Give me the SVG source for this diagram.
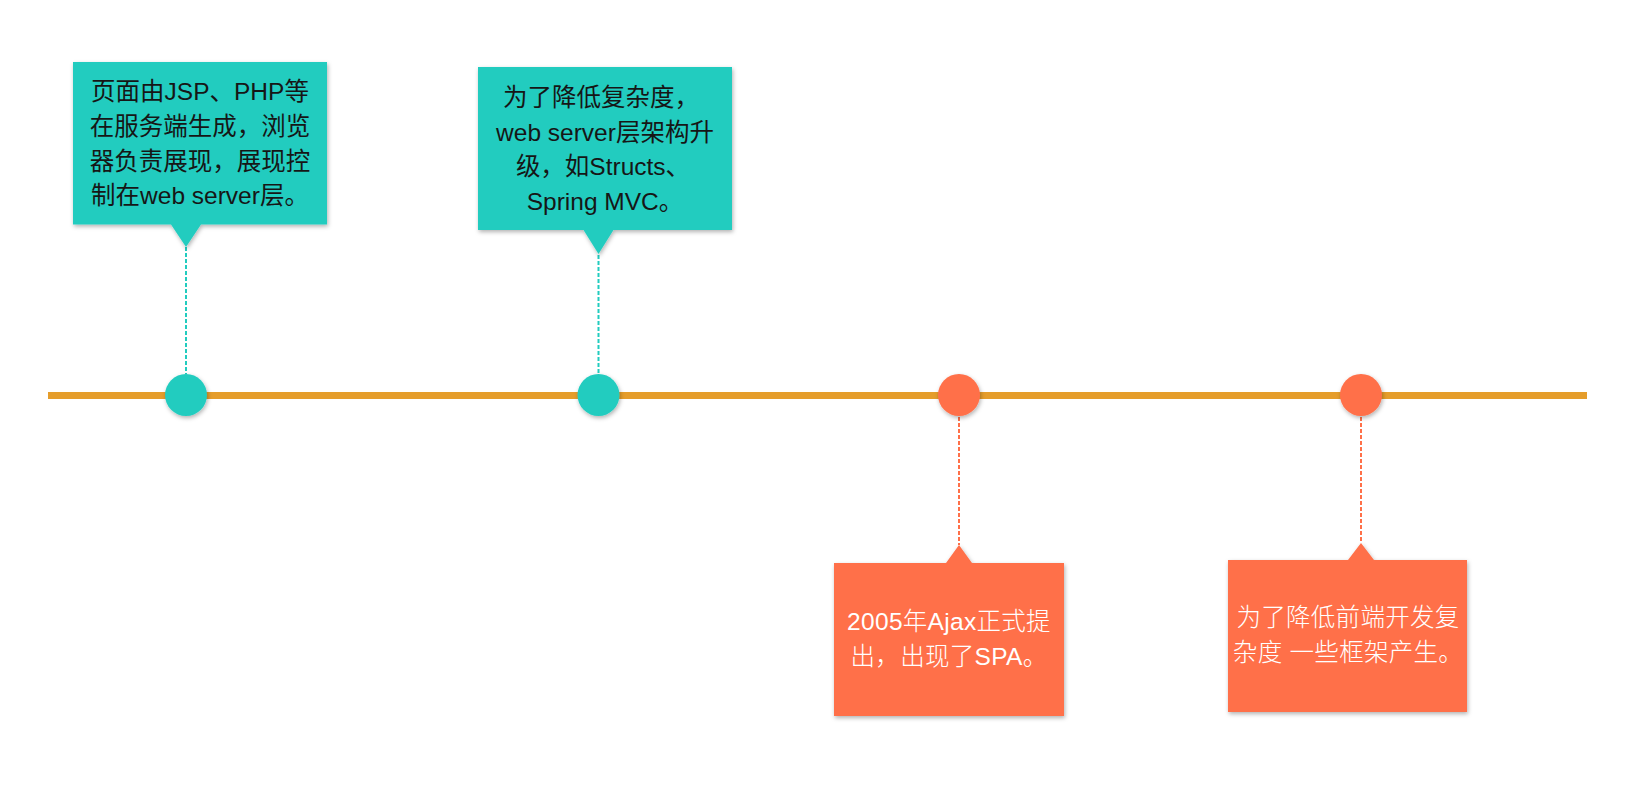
<svg xmlns="http://www.w3.org/2000/svg" width="1641" height="792" viewBox="0 0 1641 792">
<defs>
<filter id="sh" x="-20%" y="-20%" width="140%" height="140%">
<feDropShadow dx="1" dy="2" stdDeviation="2" flood-color="#000" flood-opacity="0.3"/>
</filter>
<style>
.teal{fill:#22CCBF}
.orange{fill:#FF7049}
.t{font-family:"Liberation Sans","Noto Sans CJK SC",sans-serif;font-size:24.5px;text-anchor:middle}
.dk{fill:#161616}
.wt{fill:#FFFFFF;font-weight:300;letter-spacing:0.3px}
.dt{stroke:#22CCBF;stroke-width:2;stroke-dasharray:4 2;fill:none}
.do{stroke:#FF7049;stroke-width:2;stroke-dasharray:4 2;fill:none}
</style>
</defs>
<rect width="1641" height="792" fill="#FFFFFF"/>
<g id="connectors">
<line x1="48" y1="395.5" x2="1587" y2="395.5" stroke="#E59D2B" stroke-width="7"/>
<line class="dt" x1="186" y1="247" x2="186" y2="374"/>
<line class="dt" x1="598.5" y1="255" x2="598.5" y2="374"/>
<line class="do" x1="959" y1="417" x2="959" y2="545"/>
<line class="do" x1="1361" y1="417" x2="1361" y2="543"/>
</g>
<g id="dot1"><circle class="teal" cx="186" cy="395" r="21" filter="url(#sh)"/></g>
<g id="dot2"><circle class="teal" cx="598.5" cy="395" r="21" filter="url(#sh)"/></g>
<g id="dot3"><circle class="orange" cx="959" cy="395" r="21" filter="url(#sh)"/></g>
<g id="dot4"><circle class="orange" cx="1361" cy="395" r="21" filter="url(#sh)"/></g>
<g id="box1">
<path class="teal" filter="url(#sh)" d="M73 62H327V224.5H201L186 247L171 224.5H73Z"/>
<text class="t dk" x="200" y="100">页面由JSP、PHP等</text>
<text class="t dk" x="200" y="135">在服务端生成，浏览</text>
<text class="t dk" x="200" y="169.5">器负责展现，展现控</text>
<text class="t dk" x="200" y="204">制在web server层。</text>
</g>
<g id="box2">
<path class="teal" filter="url(#sh)" d="M478 67H732V230H613.5L598.5 254L583.5 230H478Z"/>
<text class="t dk" x="601" y="106">为了降低复杂度，</text>
<text class="t dk" x="605" y="140.5">web server层架构升</text>
<text class="t dk" x="603" y="175">级，如Structs、</text>
<text class="t dk" x="605" y="209.5">Spring MVC。</text>
</g>
<g id="box3">
<path class="orange" filter="url(#sh)" d="M834 563H946L959 545L972 563H1064V716H834Z"/>
<text class="t wt" x="949" y="630">2005年Ajax正式提</text>
<text class="t wt" x="949" y="665">出，出现了SPA。</text>
</g>
<g id="box4">
<path class="orange" filter="url(#sh)" d="M1228 560H1348L1361 543L1374 560H1467V712H1228Z"/>
<text class="t wt" x="1348" y="626">为了降低前端开发复</text>
<text class="t wt" x="1348" y="661">杂度 一些框架产生。</text>
</g>
</svg>
